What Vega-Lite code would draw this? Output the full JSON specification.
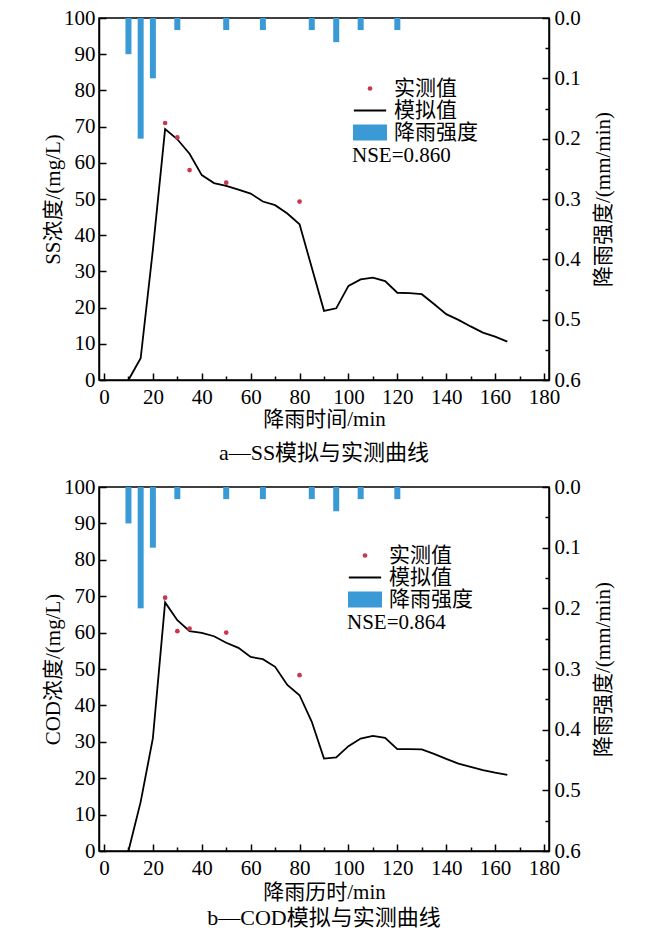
{
  "$schema": "https://vega.github.io/schema/vega-lite/v6.json",
  "padding": {"left": 41, "top": 6, "right": 5, "bottom": 5},
  "spacing": 10,
  "datasets": {
    "rain": [
      {"t": 10, "i": 0.06}, {"t": 15, "i": 0.20}, {"t": 20, "i": 0.10}, {"t": 30, "i": 0.02},
      {"t": 50, "i": 0.02}, {"t": 65, "i": 0.02}, {"t": 85, "i": 0.02}, {"t": 95, "i": 0.04},
      {"t": 105, "i": 0.02}, {"t": 120, "i": 0.02}
    ],
    "ss_sim": [
      {"t": 10, "v": 0}, {"t": 15, "v": 6}, {"t": 20, "v": 36}, {"t": 25, "v": 69.3}, {"t": 30, "v": 66.5},
      {"t": 35, "v": 62.5}, {"t": 40, "v": 56.6}, {"t": 45, "v": 54.4}, {"t": 50, "v": 53.6}, {"t": 55, "v": 52.6},
      {"t": 60, "v": 51.5}, {"t": 65, "v": 49.3}, {"t": 70, "v": 48.3}, {"t": 75, "v": 46}, {"t": 80, "v": 43},
      {"t": 90, "v": 19.1}, {"t": 95, "v": 19.8}, {"t": 100, "v": 26}, {"t": 105, "v": 27.8}, {"t": 110, "v": 28.3},
      {"t": 115, "v": 27.3}, {"t": 120, "v": 24.1}, {"t": 125, "v": 24}, {"t": 130, "v": 23.7}, {"t": 135, "v": 21},
      {"t": 140, "v": 18.2}, {"t": 145, "v": 16.6}, {"t": 150, "v": 14.8}, {"t": 155, "v": 13.1}, {"t": 160, "v": 12},
      {"t": 165, "v": 10.6}
    ],
    "ss_obs": [
      {"t": 25, "v": 71, "s": "实测值"}, {"t": 30, "v": 67, "s": "实测值"}, {"t": 35, "v": 58, "s": "实测值"},
      {"t": 50, "v": 54.5, "s": "实测值"}, {"t": 80, "v": 49.3, "s": "实测值"}
    ],
    "cod_sim": [
      {"t": 10, "v": 0}, {"t": 15, "v": 13.5}, {"t": 20, "v": 31}, {"t": 25, "v": 68.3}, {"t": 30, "v": 63.4},
      {"t": 35, "v": 60.4}, {"t": 40, "v": 59.9}, {"t": 45, "v": 59}, {"t": 50, "v": 57.2}, {"t": 55, "v": 55.8},
      {"t": 60, "v": 53.3}, {"t": 65, "v": 52.7}, {"t": 70, "v": 50.6}, {"t": 75, "v": 45.6}, {"t": 80, "v": 42.8},
      {"t": 85, "v": 35.5}, {"t": 90, "v": 25.4}, {"t": 95, "v": 25.7}, {"t": 100, "v": 28.8}, {"t": 105, "v": 30.9},
      {"t": 110, "v": 31.6}, {"t": 115, "v": 31.1}, {"t": 120, "v": 28}, {"t": 125, "v": 28}, {"t": 130, "v": 27.9},
      {"t": 135, "v": 26.7}, {"t": 140, "v": 25.3}, {"t": 145, "v": 24}, {"t": 150, "v": 23.1}, {"t": 155, "v": 22.2},
      {"t": 160, "v": 21.5}, {"t": 165, "v": 20.9}
    ],
    "cod_obs": [
      {"t": 25, "v": 69.6, "s": "实测值"}, {"t": 30, "v": 60.4, "s": "实测值"}, {"t": 35, "v": 61.1, "s": "实测值"},
      {"t": 50, "v": 60, "s": "实测值"}, {"t": 80, "v": 48.3, "s": "实测值"}
    ]
  },
  "vconcat": [
    {
      "width": 450,
      "height": 362,
      "title": {"text": "a—SS模拟与实测曲线", "orient": "bottom", "offset": 14},
      "encoding": {
        "x": {
          "field": "t", "type": "quantitative",
          "scale": {"domain": [0, 180], "nice": false, "zero": false},
          "axis": {
            "title": "降雨时间/min",
            "values": [0, 10, 20, 30, 40, 50, 60, 70, 80, 90, 100, 110, 120, 130, 140, 150, 160, 170, 180],
            "labelExpr": "datum.value % 20 === 0 ? datum.label : ''",
            "tickSize": {"condition": {"test": "datum.value % 20 === 0", "value": -7}, "value": -4},
            "labelPadding": 13, "titlePadding": -2, "labelFlush": false, "labelOverlap": false
          }
        }
      },
      "layer": [
        {
          "data": {"name": "rain"},
          "mark": {"type": "bar", "size": 6, "color": "#3a9ad6"},
          "encoding": {
            "y": {
              "field": "i", "type": "quantitative",
              "scale": {"domain": [0, 0.6], "reverse": true, "nice": false},
              "axis": {
                "orient": "right", "title": "降雨强度/(mm/min)", "format": ".1f",
                "values": [0, 0.05, 0.1, 0.15, 0.2, 0.25, 0.3, 0.35, 0.4, 0.45, 0.5, 0.55, 0.6],
                "labelExpr": "abs(datum.value * 10 - round(datum.value * 10)) < 0.01 ? datum.label : ''",
                "tickSize": {"condition": {"test": "abs(datum.value * 10 - round(datum.value * 10)) < 0.01", "value": -7}, "value": -4},
                "labelPadding": 12, "titleAngle": -90, "titleBaseline": "top", "titlePadding": 12, "titleFontSize": 21,
                "labelOverlap": false, "labelFlush": false
              }
            }
          }
        },
        {
          "encoding": {
            "y": {
              "field": "v", "type": "quantitative",
              "scale": {"domain": [0, 100], "nice": false},
              "axis": {
                "title": "SS浓度/(mg/L)",
                "values": [0, 10, 20, 30, 40, 50, 60, 70, 80, 90, 100],
                "tickSize": -7, "labelPadding": 11, "titlePadding": 0, "labelFlush": false, "labelOverlap": false
              }
            }
          },
          "layer": [
            {
              "data": {"name": "ss_sim"},
              "mark": {"type": "line", "color": "black", "strokeWidth": 1.8}
            },
            {
              "data": {"name": "ss_obs"},
              "mark": {"type": "point", "filled": true, "strokeWidth": 1.8, "opacity": 1},
              "encoding": {
                "fill": {
                  "field": "s", "type": "nominal",
                  "scale": {"domain": ["实测值", "模拟值", "降雨强度"], "range": ["#c8374a", "transparent", "#3a9ad6"]},
                  "legend": {"orient": "none", "legendX": 253, "legendY": 60, "title": "NSE=0.860"}
                },
                "stroke": {
                  "field": "s", "type": "nominal",
                  "scale": {"domain": ["实测值", "模拟值", "降雨强度"], "range": ["transparent", "black", "transparent"]},
                  "legend": {"orient": "none", "legendX": 253, "legendY": 60, "title": "NSE=0.860"}
                },
                "shape": {
                  "field": "s", "type": "nominal",
                  "scale": {"domain": ["实测值", "模拟值", "降雨强度"], "range": ["circle", "M-0.95,0H0.95", "M-1,-0.47H1V0.47H-1Z"]},
                  "legend": {"orient": "none", "legendX": 253, "legendY": 60, "title": "NSE=0.860"}
                },
                "size": {
                  "field": "s", "type": "nominal",
                  "scale": {"type": "ordinal", "domain": ["实测值", "模拟值", "降雨强度"], "range": [22, 1156, 1156]},
                  "legend": {"orient": "none", "legendX": 253, "legendY": 60, "title": "NSE=0.860"}
                }
              }
            }
          ]
        }
      ],
      "resolve": {"scale": {"y": "independent"}, "axis": {"y": "independent"}}
    },
    {
      "width": 450,
      "height": 364,
      "title": {"text": "b—COD模拟与实测曲线", "orient": "bottom", "offset": 6},
      "encoding": {
        "x": {
          "field": "t", "type": "quantitative",
          "scale": {"domain": [0, 180], "nice": false, "zero": false},
          "axis": {
            "title": "降雨历时/min",
            "values": [0, 10, 20, 30, 40, 50, 60, 70, 80, 90, 100, 110, 120, 130, 140, 150, 160, 170, 180],
            "labelExpr": "datum.value % 20 === 0 ? datum.label : ''",
            "tickSize": {"condition": {"test": "datum.value % 20 === 0", "value": -7}, "value": -4},
            "labelPadding": 13, "titlePadding": 0, "labelFlush": false, "labelOverlap": false
          }
        }
      },
      "layer": [
        {
          "data": {"name": "rain"},
          "mark": {"type": "bar", "size": 6, "color": "#3a9ad6"},
          "encoding": {
            "y": {
              "field": "i", "type": "quantitative",
              "scale": {"domain": [0, 0.6], "reverse": true, "nice": false},
              "axis": {
                "orient": "right", "title": "降雨强度/(mm/min)", "format": ".1f",
                "values": [0, 0.05, 0.1, 0.15, 0.2, 0.25, 0.3, 0.35, 0.4, 0.45, 0.5, 0.55, 0.6],
                "labelExpr": "abs(datum.value * 10 - round(datum.value * 10)) < 0.01 ? datum.label : ''",
                "tickSize": {"condition": {"test": "abs(datum.value * 10 - round(datum.value * 10)) < 0.01", "value": -7}, "value": -4},
                "labelPadding": 12, "titleAngle": -90, "titleBaseline": "top", "titlePadding": 12, "titleFontSize": 21,
                "labelOverlap": false, "labelFlush": false
              }
            }
          }
        },
        {
          "encoding": {
            "y": {
              "field": "v", "type": "quantitative",
              "scale": {"domain": [0, 100], "nice": false},
              "axis": {
                "title": "COD浓度/(mg/L)",
                "values": [0, 10, 20, 30, 40, 50, 60, 70, 80, 90, 100],
                "tickSize": -7, "labelPadding": 11, "titlePadding": 0, "labelFlush": false, "labelOverlap": false
              }
            }
          },
          "layer": [
            {
              "data": {"name": "cod_sim"},
              "mark": {"type": "line", "color": "black", "strokeWidth": 1.8}
            },
            {
              "data": {"name": "cod_obs"},
              "mark": {"type": "point", "filled": true, "strokeWidth": 1.8, "opacity": 1},
              "encoding": {
                "fill": {
                  "field": "s", "type": "nominal",
                  "scale": {"domain": ["实测值", "模拟值", "降雨强度"], "range": ["#c8374a", "transparent", "#3a9ad6"]},
                  "legend": {"orient": "none", "legendX": 248, "legendY": 58, "title": "NSE=0.864"}
                },
                "stroke": {
                  "field": "s", "type": "nominal",
                  "scale": {"domain": ["实测值", "模拟值", "降雨强度"], "range": ["transparent", "black", "transparent"]},
                  "legend": {"orient": "none", "legendX": 248, "legendY": 58, "title": "NSE=0.864"}
                },
                "shape": {
                  "field": "s", "type": "nominal",
                  "scale": {"domain": ["实测值", "模拟值", "降雨强度"], "range": ["circle", "M-0.95,0H0.95", "M-1,-0.47H1V0.47H-1Z"]},
                  "legend": {"orient": "none", "legendX": 248, "legendY": 58, "title": "NSE=0.864"}
                },
                "size": {
                  "field": "s", "type": "nominal",
                  "scale": {"type": "ordinal", "domain": ["实测值", "模拟值", "降雨强度"], "range": [22, 1156, 1156]},
                  "legend": {"orient": "none", "legendX": 248, "legendY": 58, "title": "NSE=0.864"}
                }
              }
            }
          ]
        }
      ],
      "resolve": {"scale": {"y": "independent"}, "axis": {"y": "independent"}}
    }
  ],
  "resolve": {
    "scale": {"fill": "independent", "stroke": "independent", "shape": "independent", "size": "independent"},
    "legend": {"fill": "independent", "stroke": "independent", "shape": "independent", "size": "independent"}
  },
  "config": {
    "font": "Liberation Serif, Noto Sans CJK SC",
    "view": {"stroke": "black", "strokeWidth": 1.5},
    "axis": {
      "labelFont": "Liberation Serif, Noto Sans CJK SC", "labelFontSize": 21, "labelColor": "black",
      "titleFont": "Liberation Serif, Noto Sans CJK SC", "titleFontSize": 21, "titleFontWeight": "normal", "titleColor": "black",
      "domainColor": "black", "domainWidth": 1.5, "tickColor": "black", "tickWidth": 1.5, "grid": false
    },
    "legend": {
      "labelFont": "Liberation Serif, Noto Sans CJK SC", "labelFontSize": 21, "labelColor": "black",
      "titleFont": "Liberation Serif, Noto Sans CJK SC", "titleFontSize": 21, "titleFontWeight": "normal", "titleColor": "black",
      "titleOrient": "bottom", "titlePadding": 2, "labelOffset": 6, "rowPadding": 0, "titleLimit": 300,
      "clipHeight": 21, "symbolStrokeWidth": 1.8, "symbolOpacity": 1
    },
    "title": {
      "font": "Liberation Serif, Noto Sans CJK SC", "fontSize": 22, "fontWeight": "normal", "color": "black"
    }
  }
}
